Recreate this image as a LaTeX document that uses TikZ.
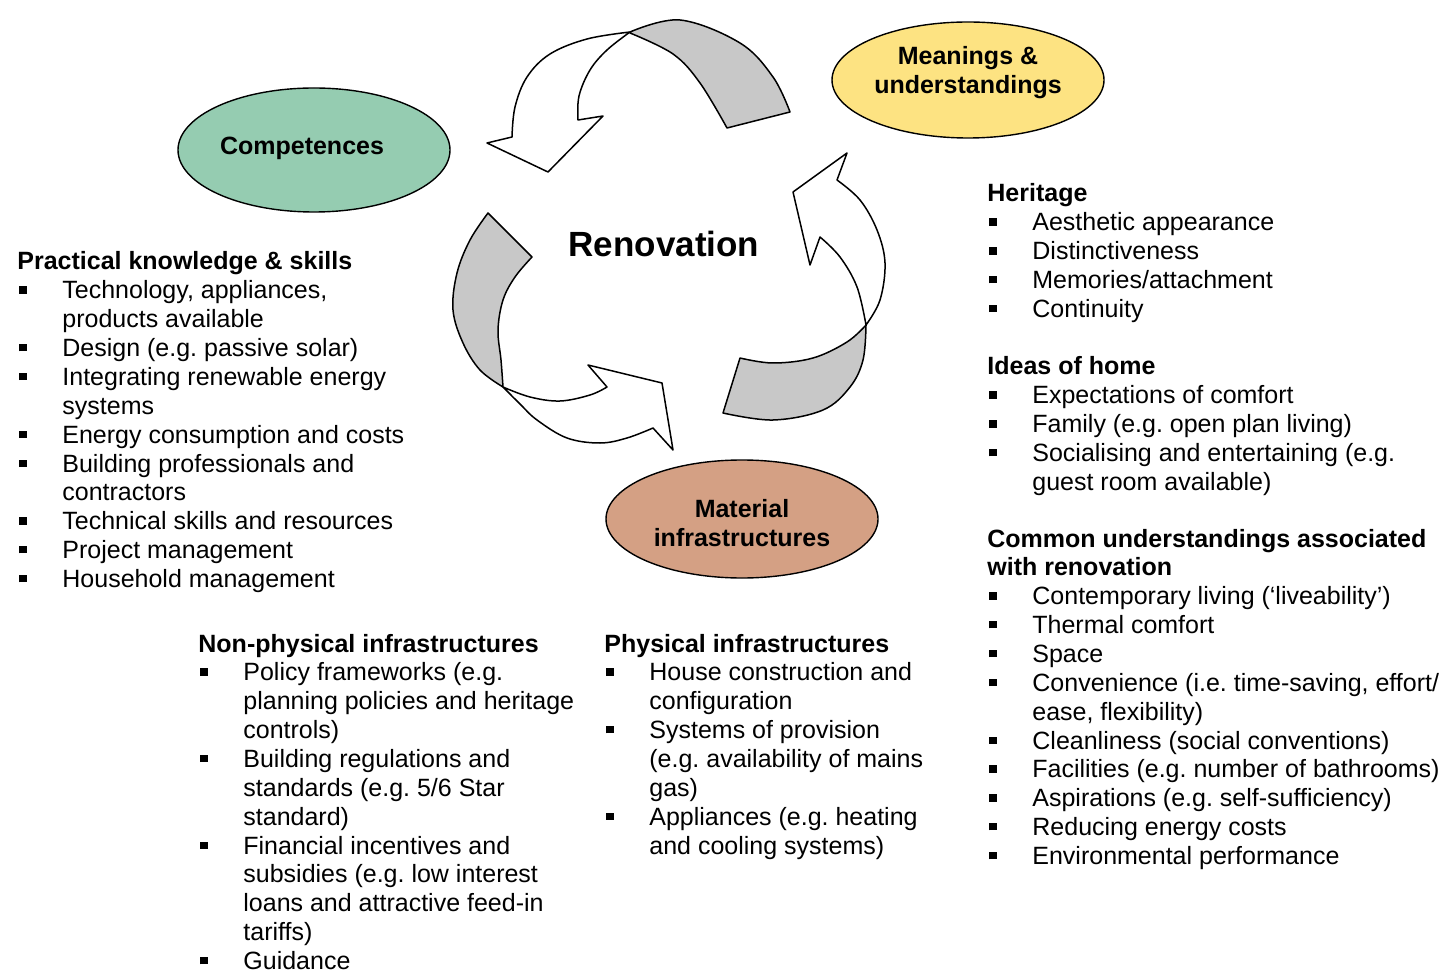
\documentclass[tikz,border=0pt]{standalone}
\usepackage{fontspec}
\setmainfont{Liberation Sans}
\usetikzlibrary{shapes.geometric}
\definecolor{compgreen}{HTML}{95CCB1}
\definecolor{meanyellow}{HTML}{FDE382}
\definecolor{matbrown}{HTML}{D4A084}
\definecolor{ribgray}{HTML}{C8C8C8}
\newcommand{\bul}{\makebox[22.5pt][l]{\hspace{1pt}\rule[2.6pt]{3.6pt}{3.6pt}}}
\newcommand{\lsize}{\fontsize{12.5}{14.43}\selectfont}
\newcommand{\hd}[1]{\multicolumn{2}{@{}l@{}}{\bfseries #1}}
\frenchspacing
\begin{document}
\begin{tikzpicture}[x=0.5pt,y=-0.5pt,
  oval/.style={ellipse, draw=black, line width=0.7pt, inner sep=0pt, minimum width=136pt},
  ovallabel/.style={font=\fontsize{12.5}{14.5}\selectfont\bfseries, align=center, inner sep=0pt},
  listtext/.style={anchor=base west, inner sep=0pt, font=\lsize},
  ribbon/.style={draw=black, line width=0.75pt, line join=round},
  smoothp/.style={smooth, tension=0.6}]
\useasboundingbox (0,0) rectangle (1443,972);

% ---------- ellipses ----------
\node[oval, fill=compgreen, minimum height=62pt] (comp) at (314,150) {};
\node[ovallabel] (compl) at (302,148) {Competences};
\node[oval, fill=meanyellow, minimum height=58pt] (mean) at (968,80) {};
\node[ovallabel] (meanl) at (968,73) {Meanings \&\\understandings};
\node[oval, fill=matbrown, minimum height=59pt] (mat) at (742,519) {};
\node[ovallabel] (matl) at (742,523) {Material\\infrastructures};

% ---------- circular ribbon arrows ----------
% top arrow (to Competences)
\draw[ribbon, fill=ribgray] plot[smoothp] coordinates {(630,32) (680,20) (740,43) (773,77) (790,112)}
  -- (727,128) -- plot[smoothp] coordinates {(727,128) (700,83) (673,54) (630,33)} -- cycle;
\draw[ribbon, fill=white] plot[smoothp] coordinates {(630,32) (587,39) (550,54) (527,77) (515,107) (512,137)}
  -- (487,143) -- (548,172) -- (603,116) -- (578,120)
  -- plot[smoothp] coordinates {(578,120) (579,96) (590,70) (607,50) (630,32)} -- cycle;

% right arrow (to Meanings)
\draw[ribbon, fill=ribgray] plot[smoothp] coordinates {(866,325) (863,360) (850,387) (823,410) (773,420) (723,413)}
  -- (740,358) -- plot[smoothp] coordinates {(740,358) (773,363) (813,358) (847,342) (866,325)} -- cycle;
\draw[ribbon, fill=white] plot[smoothp] coordinates {(866,325) (880,300) (885,263) (877,230) (860,200) (837,180)}
  -- (847,153) -- (793,192) -- (810,265) -- (820,237)
  -- plot[smoothp] coordinates {(820,237) (840,257) (857,287) (866,325)} -- cycle;

% left arrow (to Material infrastructures)
\draw[ribbon, fill=ribgray] plot[smoothp] coordinates {(488,213) (470,240) (457,273) (453,310) (463,343) (480,370) (503,387)}
  -- plot[smoothp] coordinates {(503,387) (501,360) (498,330) (503,300) (515,277) (532,257)} -- cycle;
\draw[ribbon, fill=white] plot[smoothp] coordinates {(503,387) (530,397) (560,401) (590,395) (607,387)}
  -- (588,365) -- (662,383) -- (673,450) -- (653,428)
  -- plot[smoothp] coordinates {(653,428) (627,438) (600,443) (567,438) (537,420) (520,404) (503,387)} -- cycle;

\node[font=\fontsize{17.5}{20}\selectfont\bfseries, inner sep=0pt] (ren) at (664,244) {Renovation};

% ---------- text lists ----------
\node[listtext] (prac) at (17,270) {\begin{tabular}[t]{@{}l@{}l@{}}
\hd{Practical knowledge \& skills}\\
\bul & Technology, appliances,\\
 & products available\\
\bul & Design (e.g. passive solar)\\
\bul & Integrating renewable energy\\
 & systems\\
\bul & Energy consumption and costs\\
\bul & Building professionals and\\
 & contractors\\
\bul & Technical skills and resources\\
\bul & Project management\\
\bul & Household management
\end{tabular}};

\node[listtext] (nonphys) at (198,652) {\begin{tabular}[t]{@{}l@{}l@{}}
\hd{Non-physical infrastructures}\\
\bul & Policy frameworks (e.g.\\
 & planning policies and heritage\\
 & controls)\\
\bul & Building regulations and\\
 & standards (e.g. 5/6 Star\\
 & standard)\\
\bul & Financial incentives and\\
 & subsidies (e.g. low interest\\
 & loans and attractive feed-in\\
 & tariffs)\\
\bul & Guidance
\end{tabular}};

\node[listtext] (phys) at (604,652) {\begin{tabular}[t]{@{}l@{}l@{}}
\hd{Physical infrastructures}\\
\bul & House construction and\\
 & configuration\\
\bul & Systems of provision\\
 & (e.g. availability of mains\\
 & gas)\\
\bul & Appliances (e.g. heating\\
 & and cooling systems)
\end{tabular}};

\node[listtext] (herit) at (987,202) {\begin{tabular}[t]{@{}l@{}l@{}}
\hd{Heritage}\\
\bul & Aesthetic appearance\\
\bul & Distinctiveness\\
\bul & Memories/attachment\\
\bul & Continuity
\end{tabular}};

\node[listtext] (home) at (987,375) {\begin{tabular}[t]{@{}l@{}l@{}}
\hd{Ideas of home}\\
\bul & Expectations of comfort\\
\bul & Family (e.g. open plan living)\\
\bul & Socialising and entertaining (e.g.\\
 & guest room available)
\end{tabular}};

\node[listtext] (common) at (987,547) {\begin{tabular}[t]{@{}l@{}l@{}}
\hd{Common understandings associated}\\
\hd{with renovation}\\
\bul & Contemporary living (‘liveability’)\\
\bul & Thermal comfort\\
\bul & Space\\
\bul & Convenience (i.e. time-saving, effort/\\
 & ease, flexibility)\\
\bul & Cleanliness (social conventions)\\
\bul & Facilities (e.g. number of bathrooms)\\
\bul & Aspirations (e.g. self-sufficiency)\\
\bul & Reducing energy costs\\
\bul & Environmental performance
\end{tabular}};
\end{tikzpicture}
\end{document}
